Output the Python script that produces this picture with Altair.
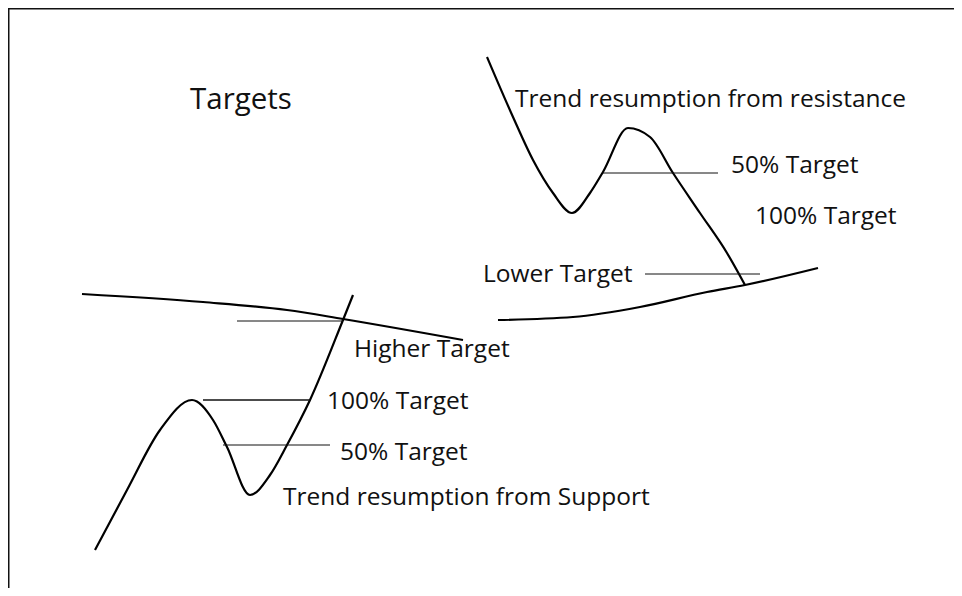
import altair as alt
import pandas as pd

# ---- curves (diagram coordinates: x to the right, y downward) ----
res_curve_x = [487, 513, 533, 553, 572, 590, 603, 628, 650, 673, 700, 727, 745]
res_curve_y = [57, 117, 160, 193, 213, 193, 172, 128, 137, 173, 213, 253, 285]

res_floor_x = [498, 573, 640, 707, 745, 818]
res_floor_y = [320, 317, 307, 292, 285, 268]

sup_curve_x = [95, 127, 160, 192, 213, 227, 250, 270, 287, 310, 343, 353]
sup_curve_y = [550, 490, 430, 400, 420, 447, 495, 475, 445, 400, 320, 295]

sup_ceiling_x = [82, 203, 287, 343, 463]
sup_ceiling_y = [294, 302, 310, 319, 340]

# ---- target levels: (x start, x end, y, stroke width) ----
target_x1 = [603, 645, 237, 203, 223]
target_x2 = [718, 760, 343, 310, 330]
target_y = [173, 274, 321, 400, 445]
target_w = [1.0, 1.0, 1.0, 1.6, 1.0]

# ---- labels ----
label_text = ["Trend resumption from resistance", "50% Target", "100% Target", "Lower Target",
              "Higher Target", "100% Target", "50% Target", "Trend resumption from Support"]
label_x = [515, 731, 755, 483, 354, 327, 340, 283]
label_y = [100, 166, 217, 275, 350, 402, 453, 498]

title_text = ["Targets"]
title_x = [190]
title_y = [100]

W, H = 946, 580
xs = alt.Scale(domain=[8, 8 + W], nice=False, zero=False)
ys = alt.Scale(domain=[8 + H, 8], nice=False, zero=False)

rows = []
for name, xx, yy in [("res", res_curve_x, res_curve_y), ("resfloor", res_floor_x, res_floor_y),
                     ("sup", sup_curve_x, sup_curve_y), ("supceil", sup_ceiling_x, sup_ceiling_y)]:
    for i, (a, b) in enumerate(zip(xx, yy)):
        rows.append({"series": name, "x": a, "y": b, "i": i})
curves = pd.DataFrame(rows)

targets = pd.DataFrame({"x1": target_x1, "x2": target_x2, "y": target_y, "w": target_w})
labels = pd.DataFrame({"t": label_text, "x": label_x, "y": label_y})
title = pd.DataFrame({"t": title_text, "x": title_x, "y": title_y})
border = pd.DataFrame({"x1": [8, 8.5], "x2": [8 + W, 8.5], "y1": [8.5, 8], "y2": [8.5, 8 + H]})

X = lambda f: alt.X(f, type="quantitative", scale=xs, axis=None)
Y = lambda f: alt.Y(f, type="quantitative", scale=ys, axis=None)

curve_layer = alt.Chart(curves).mark_line(
    color="black", strokeWidth=2.2, interpolate="monotone"
).encode(x=X("x"), y=Y("y"), detail="series:N", order="i:Q")

target_layer = alt.Chart(targets).mark_rule(color="#111111").encode(
    x=X("x1"), x2="x2", y=Y("y"),
    strokeWidth=alt.StrokeWidth("w:Q", scale=None, legend=None)
)

label_layer = alt.Chart(labels).mark_text(
    align="left", baseline="middle", font="Open Sans", fontSize=24.5, color="#111111"
).encode(x=X("x"), y=Y("y"), text="t:N")

title_layer = alt.Chart(title).mark_text(
    align="left", baseline="middle", font="Open Sans", fontSize=29.5, color="#111111"
).encode(x=X("x"), y=Y("y"), text="t:N")

border_layer = alt.Chart(border).mark_rule(color="#111111", strokeWidth=2).encode(
    x=X("x1"), x2="x2", y=Y("y1"), y2="y2"
)

chart = alt.layer(border_layer, curve_layer, target_layer, label_layer, title_layer).properties(
    width=W, height=H, padding=0, autosize=alt.AutoSizeParams(type="none"),
    background="white"
).configure_view(stroke=None)

chart.save("out.html", embed_options={"renderer": "svg", "actions": False})
